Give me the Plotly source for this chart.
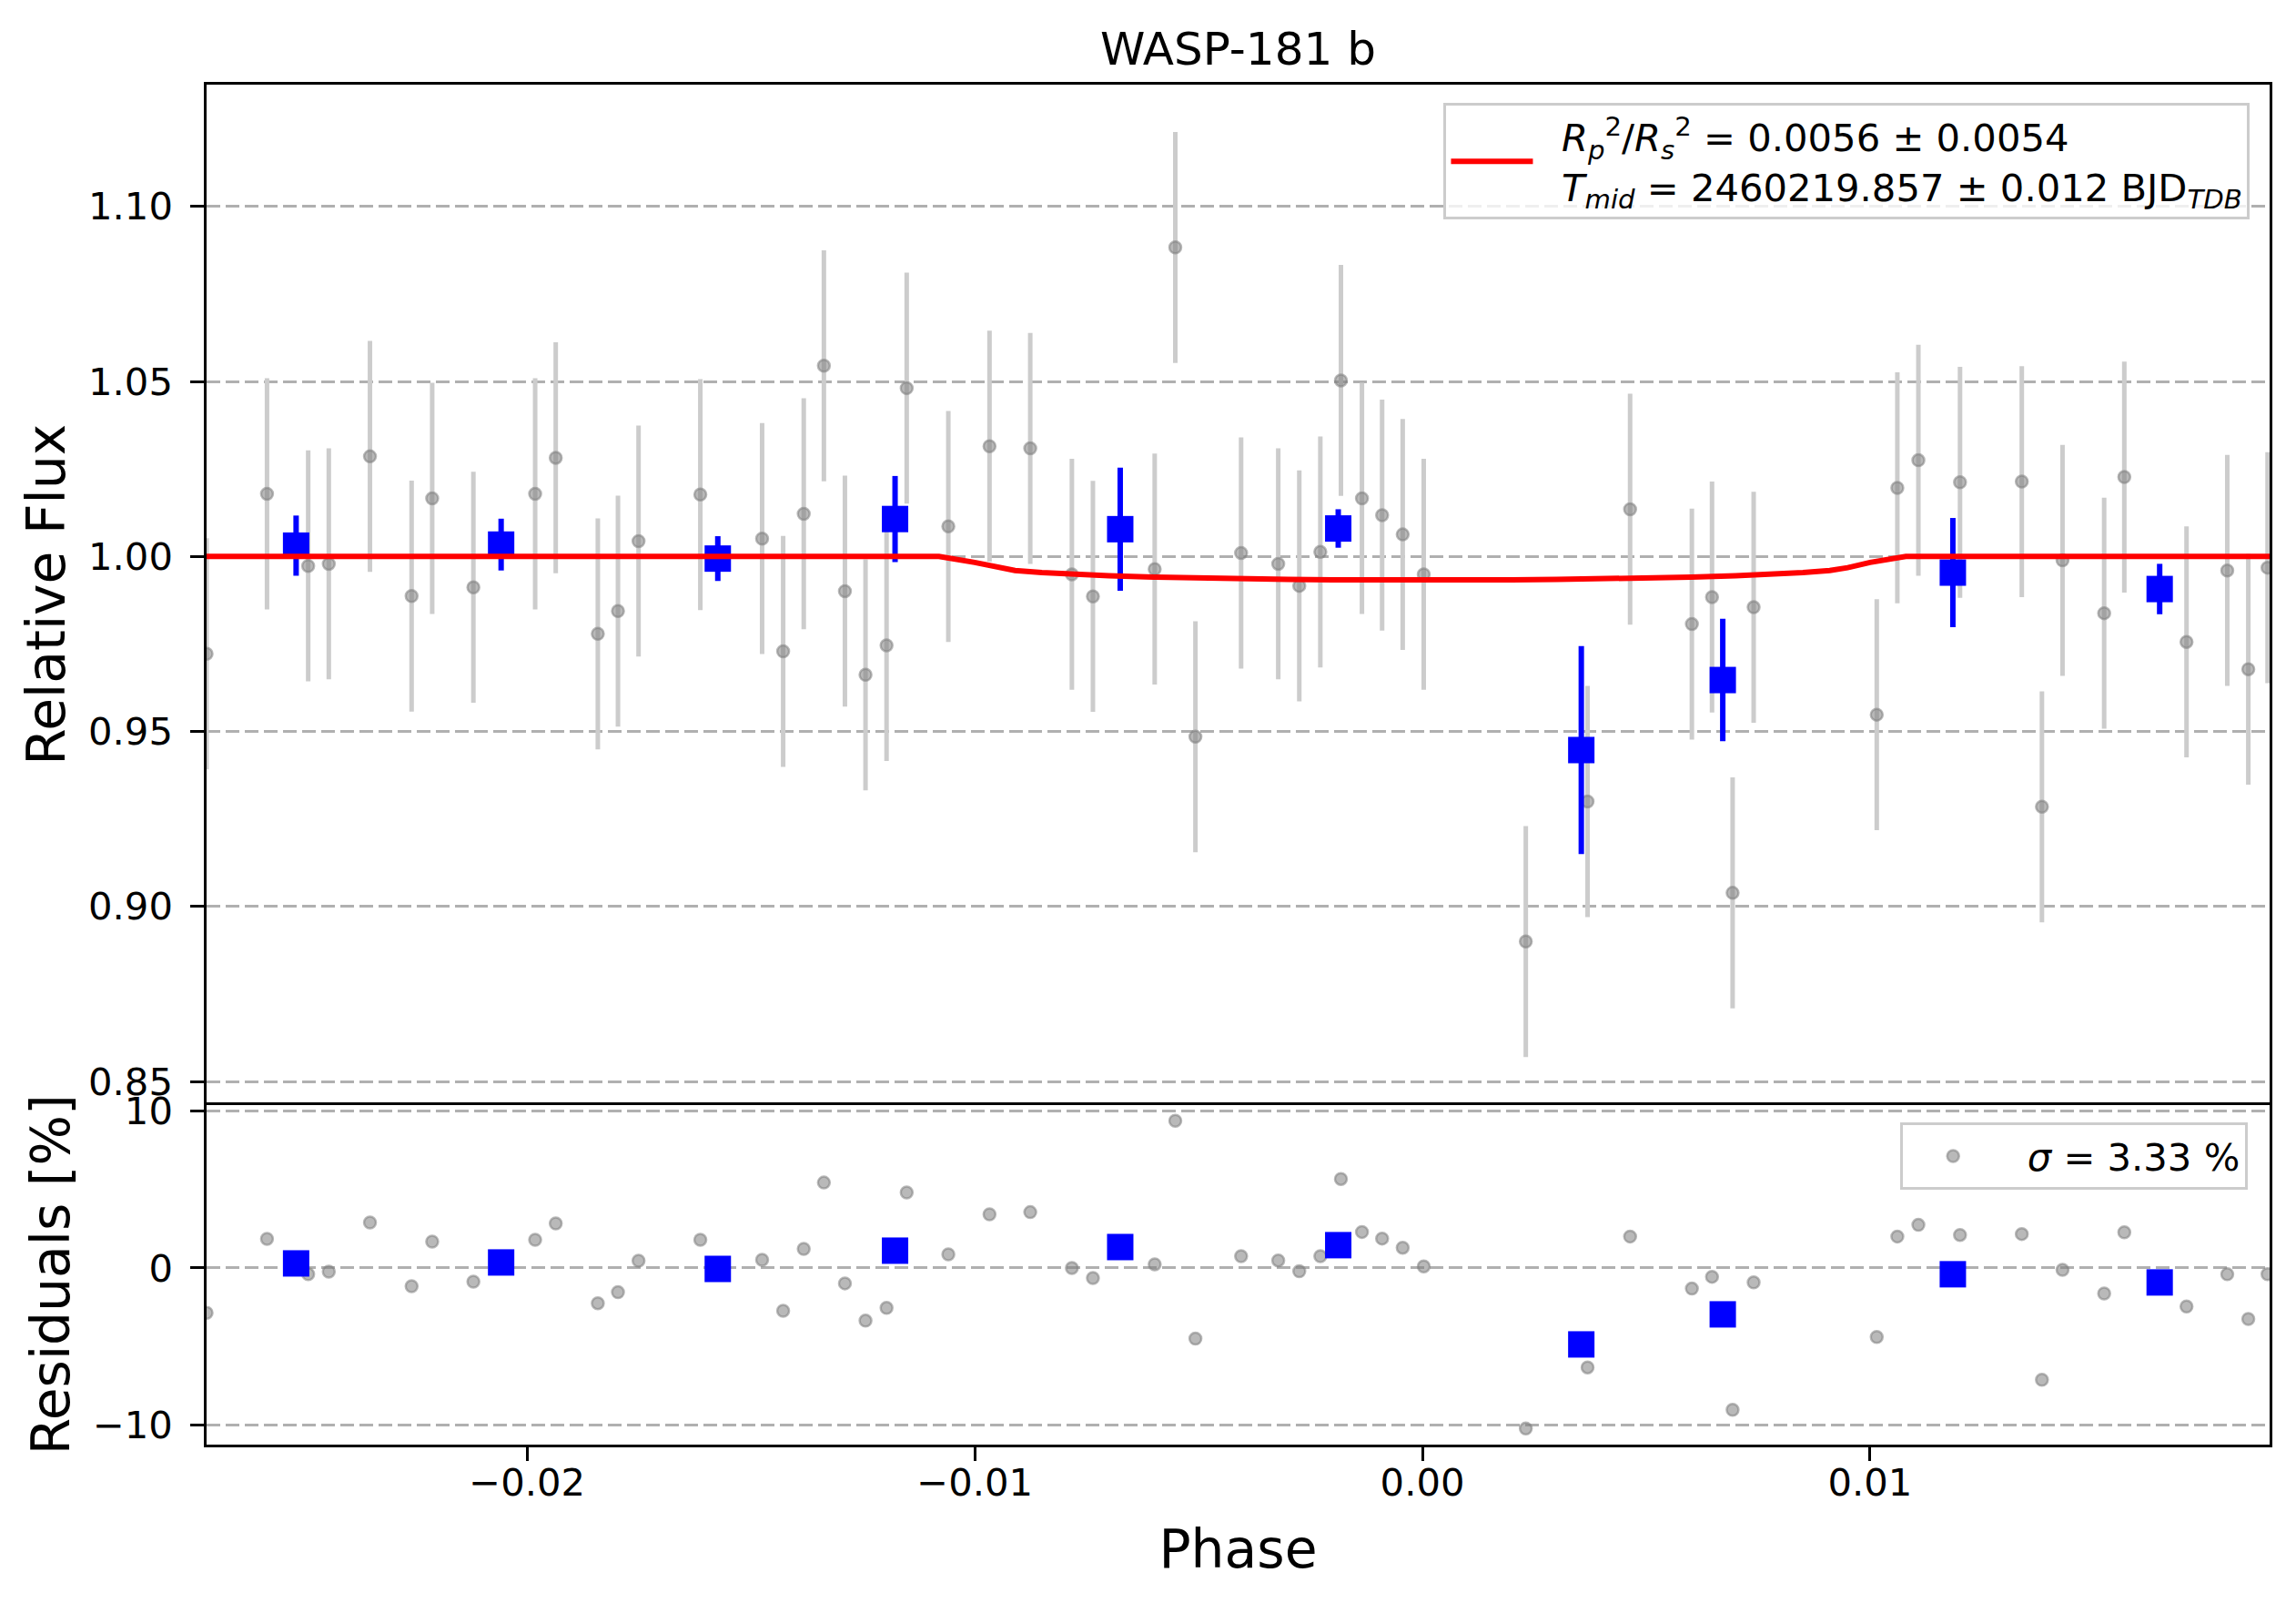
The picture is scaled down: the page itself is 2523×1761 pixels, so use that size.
import plotly.graph_objects as go

# ---- data ----
phase = [-0.02716, -0.02581, -0.02489, -0.02443, -0.02351, -0.02258, -0.02212, -0.02120,
         -0.01982, -0.01936, -0.01842, -0.01797, -0.01751, -0.01613, -0.01475, -0.01428,
         -0.01382, -0.01337, -0.01290, -0.01244, -0.01197, -0.01152, -0.01059, -0.00967,
         -0.00876, -0.00783, -0.00736, -0.00598, -0.00552, -0.00507, -0.00405, -0.00322,
         -0.00275, -0.00228, -0.00182, -0.00135, -0.00090, -0.00044, 0.00003, 0.00231,
         0.00369, 0.00464, 0.00602, 0.00647, 0.00693, 0.00740, 0.01015, 0.01061,
         0.01108, 0.01201, 0.01339, 0.01384, 0.01430, 0.01523, 0.01568, 0.01707,
         0.01798, 0.01845, 0.01888]
flux = [0.9722, 1.0179, 0.9973, 0.9979, 1.0286, 0.9887, 1.0166, 0.9912,
        1.0179, 1.0282, 0.9779, 0.9844, 1.0044, 1.0177, 1.0051, 0.9729,
        1.0122, 1.0545, 0.9901, 0.9662, 0.9746, 1.0481, 1.0086, 1.0315,
        1.0309, 0.9949, 0.9886, 0.9964, 1.0883, 0.9485, 1.0010, 0.9979,
        0.9916, 1.0013, 1.0503, 1.0166, 1.0118, 1.0063, 0.9949, 0.8900,
        0.9300, 1.0135, 0.9807, 0.9884, 0.9039, 0.9855, 0.9548, 1.0196,
        1.0275, 1.0212, 1.0214, 0.9285, 0.9989, 0.9838, 1.0227, 0.9756,
        0.9960, 0.9678, 0.9968]
flux_err = [0.033] * 59
resid = [-2.85, 1.85, -0.39, -0.23, 2.89, -1.16, 1.68, -0.87,
         1.79, 2.83, -2.24, -1.54, 0.46, 1.79, 0.52, -2.72,
         1.21, 5.43, -0.98, -3.35, -2.54, 4.80, 0.87, 3.41,
         3.55, 0.00, -0.64, 0.23, 9.36, -4.49, 0.75, 0.48,
         -0.21, 0.75, 5.66, 2.29, 1.87, 1.29, 0.10, -10.21,
         -6.32, 2.00, -1.31, -0.56, -9.02, -0.92, -4.39, 2.00,
         2.74, 2.10, 2.16, -7.11, -0.12, -1.62, 2.27, -2.45,
         -0.40, -3.24, -0.39]

bin_phase = [-0.02516, -0.02058, -0.01574, -0.01178, -0.00675, -0.00188, 0.00355, 0.00671, 0.01185, 0.01647]
bin_flux = [1.0031, 1.0034, 0.9994, 1.0107, 1.0078, 1.0080, 0.9447, 0.9647, 0.9954, 0.9907]
bin_err = [0.0086, 0.0074, 0.0064, 0.0123, 0.0176, 0.0055, 0.0297, 0.0175, 0.0156, 0.0072]
bin_resid = [0.29, 0.35, -0.06, 1.10, 1.33, 1.45, -4.86, -2.95, -0.40, -0.92]

model_phase = [-0.02716, -0.0108, -0.0100, -0.0095, -0.0091, -0.0085, -0.0078, -0.0070, -0.0060,
               -0.0050, -0.0040, -0.0030, -0.0020, -0.0010, 0.0, 0.0010, 0.0020, 0.0030,
               0.0040, 0.0050, 0.0060, 0.0070, 0.0078, 0.0085, 0.0091, 0.0095, 0.0100,
               0.0108, 0.018926]
model_flux = [1.0, 1.0, 0.9983, 0.9968, 0.9960, 0.9954, 0.99485, 0.9945, 0.9941,
              0.9938, 0.9936, 0.99345, 0.9933, 0.99325, 0.99323, 0.99325, 0.9933, 0.99345,
              0.9936, 0.9938, 0.9941, 0.9945, 0.99485, 0.9954, 0.9960, 0.9968, 0.9983,
              1.0, 1.0]

flux_ticks = [0.85, 0.90, 0.95, 1.00, 1.05, 1.10]
resid_ticks = [-10, 0, 10]
phase_ticks = [-0.02, -0.01, 0.00, 0.01]

NB = "\u00a0"
legend_model = (NB * 2 + "<i>R</i><sub><i>p</i></sub><sup>2</sup>/<i>R</i><sub><i>s</i></sub><sup>2</sup>"
                " = 0.0056 ± 0.0054<br>" + NB * 2 + "<i>T</i><sub><i>mid</i></sub> = 2460219.857 ± 0.012 "
                "BJD<sub><i>TDB</i></sub>")
legend_resid = NB * 2 + "<i>σ</i> = 3.33 %"

FONT = "DejaVu Sans"
gray_fill = "rgba(128,128,128,0.55)"

# page body has an 8px margin: size the figure to the visible window
W, H = 2523 - 16, 1761 - 16
OFF = 8

fig = go.Figure()

# main panel
fig.add_trace(go.Scatter(
    x=phase, y=flux, mode="markers", xaxis="x", yaxis="y", showlegend=False,
    marker=dict(size=13, color=gray_fill, line=dict(color=gray_fill, width=2.5)),
    error_y=dict(type="data", array=flux_err, color="#cccccc", thickness=5, width=0)))
fig.add_trace(go.Scatter(
    x=bin_phase, y=bin_flux, mode="markers", xaxis="x", yaxis="y", showlegend=False,
    marker=dict(symbol="square", size=29, color="#0000ff", line=dict(width=0)),
    error_y=dict(type="data", array=bin_err, color="#0000ff", thickness=6, width=0)))
fig.add_trace(go.Scatter(
    x=model_phase, y=model_flux, mode="lines", xaxis="x", yaxis="y",
    line=dict(color="#ff0000", width=6), name=legend_model, legend="legend"))

# residual panel
fig.add_trace(go.Scatter(
    x=phase, y=resid, mode="markers", xaxis="x2", yaxis="y2",
    marker=dict(size=13, color=gray_fill, line=dict(color=gray_fill, width=2.5)),
    name=legend_resid, legend="legend2"))
fig.add_trace(go.Scatter(
    x=bin_phase, y=bin_resid, mode="markers", xaxis="x2", yaxis="y2", showlegend=False,
    marker=dict(symbol="square", size=29, color="#0000ff", line=dict(width=0))))

axis_common = dict(showline=True, mirror=True, linecolor="black", linewidth=3.3,
                   zeroline=False, ticks="outside", ticklen=14.6, tickwidth=3.3,
                   tickcolor="black", tickfont=dict(family=FONT, size=41.7, color="black"))
grid = dict(showgrid=True, gridcolor="#b0b0b0", gridwidth=3.3, griddash="15px,6px")

xr = [-0.02716, 0.018926]

# plot area in window pixels: x 227..2494.5, y 92.5..1586.7
fig.update_layout(
    width=W, height=H,
    paper_bgcolor="white", plot_bgcolor="white",
    margin=dict(l=227 - OFF, r=W - (2494.5 - OFF), t=92.5 - OFF, b=H - (1586.7 - OFF),
                autoexpand=False),
    font=dict(family=FONT, size=41.7, color="black"),
    title=dict(text="WASP-181 b", x=0.5, xref="paper", y=1 - (53 - OFF) / H, yref="container",
               xanchor="center", yanchor="middle", font=dict(family=FONT, size=50, color="black")),
    xaxis=dict(anchor="y", domain=[0, 1], range=xr, showticklabels=False, ticks="", side="top",
               showline=True, mirror=False, linecolor="black", linewidth=3.3,
               zeroline=False, showgrid=False),
    yaxis=dict(anchor="x", domain=[0.25, 1], range=[0.8434, 1.1348], tickvals=flux_ticks,
               tickformat=".2f", ticklabelstandoff=11,
               title=dict(text="Relative Flux", font=dict(family=FONT, size=58.3), standoff=7),
               **axis_common, **grid),
    xaxis2=dict(anchor="y2", domain=[0, 1], range=xr, tickvals=phase_ticks, tickformat=".2f",
                showgrid=False, ticklabelstandoff=-12,
                title=dict(text="Phase", font=dict(family=FONT, size=58.3), standoff=30),
                **axis_common),
    yaxis2=dict(anchor="x2", domain=[0, 0.25], range=[-11.23, 10.385], tickvals=resid_ticks,
                ticklabelstandoff=11,
                title=dict(text="Residuals [%]", font=dict(family=FONT, size=58.3), standoff=7),
                **axis_common, **grid),
    legend=dict(x=0.9905, y=0.9863, xanchor="right", yanchor="top",
                bgcolor="rgba(255,255,255,0.8)", bordercolor="#cccccc", borderwidth=3,
                font=dict(family=FONT, size=41.7, color="black"), itemwidth=90,
                tracegroupgap=0),
    legend2=dict(x=0.9895, y=0.2367, xanchor="right", yanchor="top",
                 bgcolor="rgba(255,255,255,0.8)", bordercolor="#cccccc", borderwidth=3,
                 font=dict(family=FONT, size=41.7, color="black"), itemwidth=100),
)

fig.write_html("out.html")
